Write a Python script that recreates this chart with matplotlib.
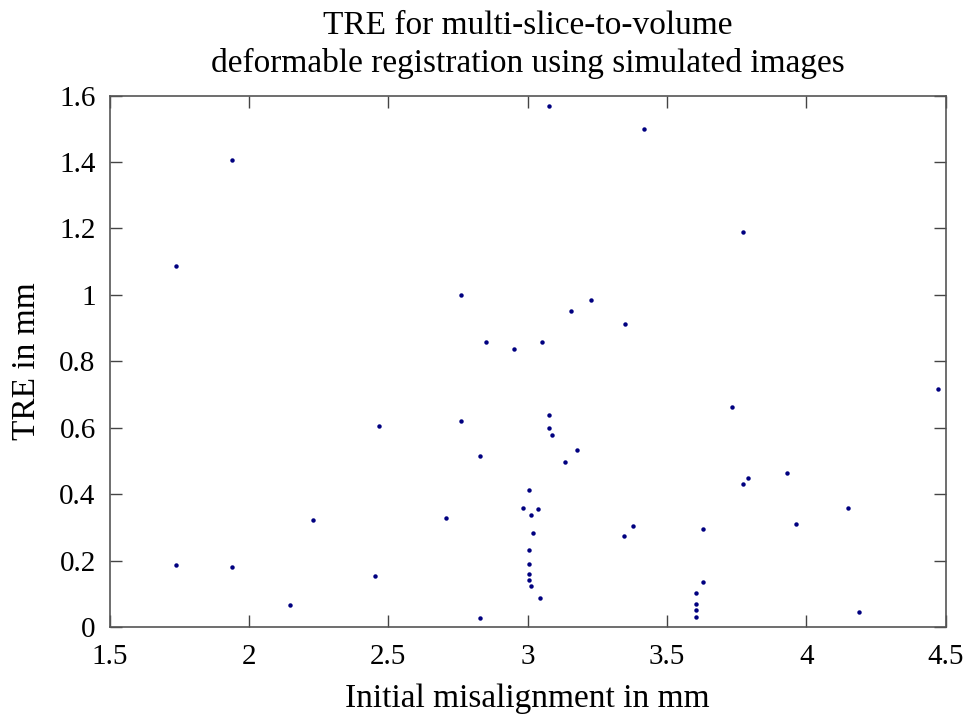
import matplotlib
matplotlib.use("Agg")
import matplotlib.pyplot as plt

x_misalign = [1.737, 1.94, 1.737, 1.94, 2.149, 2.231, 2.466, 2.451, 2.760, 2.828,
              2.706, 2.828, 3.077, 3.077, 3.086, 3.176, 3.135, 3.004, 2.983, 3.038,
              3.011, 3.020, 3.004, 3.004, 3.004, 3.004, 3.011, 3.045, 3.077, 2.760,
              2.849, 2.952, 3.051, 3.154, 3.227, 3.348, 3.416, 3.772, 4.4725, 3.733,
              3.931, 3.790, 3.774, 4.150, 3.376, 3.345, 3.630, 3.962, 3.630, 3.602,
              3.602, 3.602, 3.602, 4.188]
tre = [1.086, 1.406, 0.188, 0.182, 0.067, 0.321, 0.606, 0.155, 0.621, 0.515,
       0.328, 0.028, 0.639, 0.598, 0.578, 0.532, 0.497, 0.412, 0.359, 0.356,
       0.336, 0.284, 0.233, 0.190, 0.159, 0.141, 0.123, 0.086, 1.570, 1.000,
       0.859, 0.836, 0.859, 0.953, 0.986, 0.913, 1.501, 1.188, 0.716, 0.662,
       0.464, 0.450, 0.430, 0.358, 0.304, 0.275, 0.295, 0.309, 0.134, 0.101,
       0.069, 0.050, 0.030, 0.044]

xticks = [1.5, 2, 2.5, 3, 3.5, 4, 4.5]
xticklabels = ["1.5", "2", "2.5", "3", "3.5", "4", "4.5"]
yticks = [0, 0.2, 0.4, 0.6, 0.8, 1.0, 1.2, 1.4, 1.6]
yticklabels = ["0", "0.2", "0.4", "0.6", "0.8", "1", "1.2", "1.4", "1.6"]

plt.rcParams['font.family'] = ['Liberation Serif', 'DejaVu Serif']

fig = plt.figure(figsize=(9.71, 7.22), dpi=100)
ax = fig.add_axes([0.1128, 0.1316, 0.8613, 0.7359])
ax.plot(x_misalign, tre, linestyle='none', marker='o', markersize=3.2,
        color='#000080', markeredgewidth=0)
ax.set_xlim(1.5, 4.5)
ax.set_ylim(0, 1.6)
ax.set_xticks(xticks)
ax.set_xticklabels(xticklabels)
ax.set_yticks(yticks)
ax.set_yticklabels(yticklabels)
ax.tick_params(direction='in', top=True, right=True, length=8.5, width=1,
               labelsize=21, colors='#444444', labelcolor='black')
ax.tick_params(axis='x', pad=12)
ax.tick_params(axis='y', pad=10)
for s in ax.spines.values():
    s.set_color('#555555')
    s.set_linewidth(1.2)
ax.set_xlabel("Initial misalignment in mm", fontsize=24, labelpad=10)
ax.set_ylabel("TRE in mm", fontsize=24, labelpad=12)
ax.set_title("TRE for multi-slice-to-volume\ndeformable registration using simulated images",
             fontsize=24, pad=17, linespacing=1.28)
fig.savefig("out.png", dpi=100)
